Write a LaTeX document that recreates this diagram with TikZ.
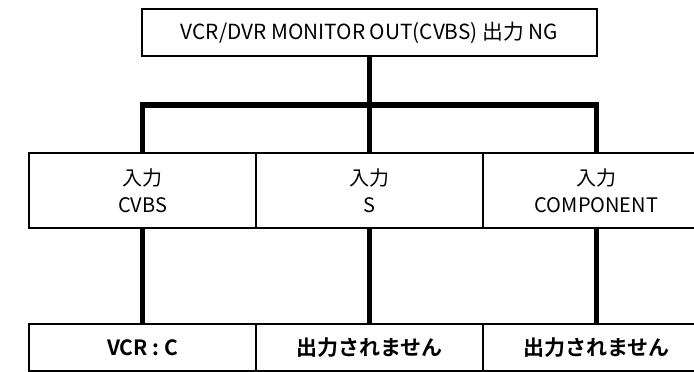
\documentclass[tikz,border=0pt]{standalone}
\usepackage{fontspec}
\setmainfont{Noto Sans CJK JP}[BoldFont={Noto Sans CJK JP Bold}]
\usetikzlibrary{positioning}

\tikzset{
  box/.style={draw, line width=1.4pt, inner sep=0pt, outer sep=0pt, align=center,
    minimum width=227pt, font=\fontsize{20}{27}\selectfont},
  inbox/.style={box, minimum height=75pt},
  outbox/.style={box, minimum height=47pt, font=\fontsize{21}{27}\selectfont\bfseries},
  link/.style={line width=5.6pt}
}

\begin{document}
\begin{tikzpicture}[x=1pt, y=-1pt]
  % page frame (pixel grid of the reference, y downwards)
  \useasboundingbox (0,0) rectangle (694,372);

  % 1. top box
  \node[box, minimum width=455pt, minimum height=47pt, font=\fontsize{20.8}{27}\selectfont]
    (monout) at (369.5,32.5) {VCR/DVR MONITOR OUT(CVBS) 出力 NG};

  % 2. input row
  \node[inbox] (inCVBS) at (142.5,190.5) {入力\\CVBS};
  \node[inbox] (inS)    at (369.5,190.5) {入力\\S};
  \node[inbox] (inComp) at (596.5,190.5) {入力\\COMPONENT};

  % 3. output row
  \node[outbox] (outCVBS) at (142.5,347.5) {VCR : C};
  \node[outbox] (outS)    at (369.5,347.5) {出力されません};
  \node[outbox] (outComp) at (596.5,347.5) {出力されません};

  % 4. tree connectors
  \coordinate (split) at (369.5,105);
  \draw[link] (monout.south) -- (split);
  \draw[link] (inCVBS.north) |- (split) -| (inComp.north);
  \draw[link] (split) -- (inS.north);

  \draw[link] (inCVBS.south) -- (outCVBS.north);
  \draw[link] (inS.south) -- (outS.north);
  \draw[link] (inComp.south) -- (outComp.north);
\end{tikzpicture}
\end{document}
